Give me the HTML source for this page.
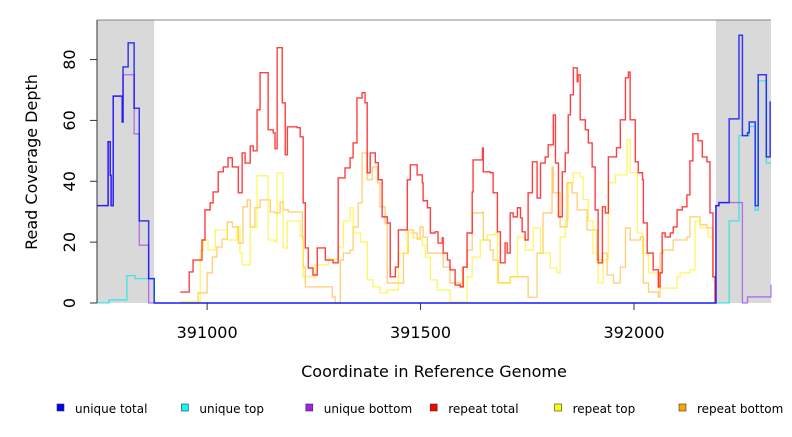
<!DOCTYPE html>
<html><head><meta charset="utf-8"><style>
body{margin:0;background:#fff;}
svg text{font-family:"DejaVu Sans","Liberation Sans",sans-serif;}
</style></head><body>
<svg id="chart" width="792" height="432" viewBox="0 0 792 432" xmlns="http://www.w3.org/2000/svg">
<g id="plot"></g>
<g id="axes"></g>
<g id="legend"></g>
</svg>
<script>
const xDomain=[390742,392321];
const yDomain=[0,93];
const xTicks=[391000,391500,392000];
const xTickLabels=["391000","391500","392000"];
const yTicks=[0,20,40,60,80];
const yTickLabels=["0","20","40","60","80"];
const grayRegions=[[390742,390876],[392192,392321]];

const redX=[390937,390958,390967,390988,390995,391007,391014,391026,391038,391049,391059,391066,391073,391082,391089,391101,391108,391117,391124,391136,391143,391155,391159,391164,391176,391183,391188,391211,391218,391225,391230,391237,391248,391258,391272,391277,391295,391307,391323,391335,391342,391351,391363,391370,391375,391382,391394,391401,391410,391422,391429,391441,391448,391464,391469,391476,391492,391504,391506,391516,391523,391534,391541,391551,391553,391563,391569,391581,391593,391600,391609,391621,391623,391640,391645,391647,391663,391670,391680,391687,391698,391703,391710,391717,391727,391734,391738,391745,391752,391762,391773,391781,391792,391799,391811,391816,391823,391832,391839,391846,391851,391858,391867,391869,391874,391886,391893,391902,391909,391916,391926,391933,391940,391952,391959,391968,391980,391987,391991,392003,392010,392020,392022,392031,392045,392057,392061,392066,392073,392085,392092,392101,392113,392124,392131,392138,392150,392160,392171,392178,392185,392190];
const redY=[3.6,10.2,14.1,20.7,30.6,32.9,36.5,43.1,44.7,47.7,44.7,44.7,36.2,49.3,46,51.6,50,63.5,75.7,75.7,56.9,55.9,50.7,83.9,65.8,48.7,57.9,57.6,54.6,32.9,18.1,11.5,9.2,18.1,18.1,14.1,13.2,41.1,44.4,47.7,52.6,67.4,69.1,65.8,42.8,49.3,46.1,40.5,28.3,26.3,8.6,11.8,24,24,40.5,45.4,42.1,39.5,33.6,31.3,23,23.4,19.7,21.4,16.4,14.1,10.9,5.9,5.3,11.8,23,36.5,47,47,50.9,43.1,42.8,36.2,23.4,13.2,19.7,16.4,29.6,28.3,31.3,28,23.4,20.7,36.2,46.4,34.5,46,48,52,61.8,46,28.3,43.1,49.3,61.8,68.4,77.3,72.7,75,60.2,56.9,52.6,44.7,30.6,13.2,31.6,29.6,48,48,51,60.2,74,75.9,60.2,46.4,42.8,40.5,26.3,16.4,10.9,5.3,9.9,23,21.7,23,25,30.6,31.6,35.5,46.7,55.6,53.3,48,46.4,29.6,8.6,0];

const yelX=[390937,390984,390991,391002,391019,391047,391070,391077,391082,391101,391117,391143,391159,391164,391178,391188,391211,391218,391225,391248,391253,391284,391307,391319,391335,391342,391359,391375,391389,391405,391422,391448,391469,391483,391504,391511,391523,391539,391569,391609,391621,391640,391656,391675,391680,391710,391727,391745,391764,391781,391804,391820,391827,391839,391846,391858,391874,391881,391893,391904,391916,391928,391940,391956,391975,391984,391991,392008,392020,392034,392057,392092,392101,392108,392131,392143,392155,392174,392185,392190];
const yelY=[0.5,17.4,20.7,17.4,24,20.7,25,16.4,12.5,24.9,41.8,20.7,20.1,42.8,18.1,27,27,22,8.6,8.6,12.5,14.5,18.4,27,31.3,23,20.1,7.6,5.3,3.3,4.3,16.4,23,21.4,19,15,7.6,4.3,0.3,8.6,15.1,20.7,22.4,23,6.6,8.6,21.7,17.4,24.7,16.4,11.5,9.9,21.7,27.3,39.5,42.8,41.4,34,27,16.4,6.6,14.1,39.5,42.1,42.1,53.6,42.8,23,16.4,9.9,4.9,4.9,8.6,9.9,10.9,27,24.7,21.7,8.6,0];

const orgX=[390937,390979,391000,391012,391023,391035,391047,391059,391073,391084,391094,391101,391112,391124,391141,391148,391159,391171,391178,391190,391213,391223,391225,391230,391284,391293,391300,391312,391319,391335,391342,391354,391363,391375,391387,391399,391405,391417,391422,391453,391460,391471,391483,391492,391499,391506,391516,391539,391553,391569,391593,391598,391609,391621,391645,391647,391663,391670,391682,391703,391710,391752,391773,391787,391796,391808,391811,391827,391843,391855,391867,391890,391913,391926,391937,391952,391968,391980,391991,392015,392022,392034,392057,392061,392068,392092,392124,392131,392148,392155,392171,392185,392190];
const orgY=[0,3.3,9.9,15.1,18.4,21,26.6,25,19.7,31.6,33.9,25,31.3,33.9,33.9,29.9,29.6,33.2,30.6,29.9,29.9,21.7,11.8,5.3,5.3,2,0,14.1,16.4,17.4,25,32.9,49.3,40.5,44.7,39.5,31.6,26,6.6,6.6,16.4,24,23,21,25,21.7,16.4,16.4,11.8,6.6,5.3,11.8,17.4,29.6,29.9,20.7,17.4,14.1,6.6,6.6,8.6,1.9,16.4,29.6,29.6,44.7,36.2,25,39.5,36.2,30.6,24,14.1,16.4,9.2,6.6,11.8,24.7,20.7,21.7,6.6,3.6,2,16.4,17.4,20.7,21.7,28.3,28.3,25.7,24.7,8.6,0];

const cyanX=[390742,390770,390812,390831,390876,392223,392246,392266,392270,392284,392291,392310,392321];
const cyanY=[0,1,9,8,0,27,55,55,58,30.5,73,46,46];
const purpX=[390742,390768,390773,390775,390780,390801,390803,390815,390829,390841,390863,392192,392199,392254,392266,392321];
const purpY=[32,53,42,32,68,59.5,75,75,55.6,19,0,32,33,0,2,6];
const blueX=[390742,390768,390773,390775,390780,390801,390803,390815,390829,390841,390863,390876,392192,392199,392223,392246,392254,392266,392270,392284,392291,392310,392319,392321];
const blueY=[32,53,42,32,68,59.5,77.6,85.5,64,27,8,0,32,33,60.5,88,55,56,59.5,32,75,48,66,66];

const legendLabels=["unique total","unique top","unique bottom","repeat total","repeat top","repeat bottom"];
const legendColors=["#0000ff","#00ffff","#a020f0","#ff0000","#ffff00","#ffa500"];

const L=97,R=771,T=20,B=303;
const X=v=>L+(v-xDomain[0])/(xDomain[1]-xDomain[0])*(R-L);
const Y=v=>B-(v-yDomain[0])/(yDomain[1]-yDomain[0])*(B-T)*(93/93)*(1);
const NS="http://www.w3.org/2000/svg";
function mk(tag,attrs,parent){const e=document.createElementNS(NS,tag);for(const k in attrs)e.setAttribute(k,attrs[k]);parent.appendChild(e);return e;}
const plot=document.getElementById('plot'),axes=document.getElementById('axes'),leg=document.getElementById('legend');

grayRegions.forEach((g,i)=>{
 const r=mk('rect',{x:X(g[0]),y:T,width:X(g[1])-X(g[0]),height:B-T,fill:'#d9d9d9'},plot);
 
 
});
function step(xs,ys,color,op,w,name){
 let d='M'+X(xs[0])+','+Y(ys[0]);
 for(let i=1;i<xs.length;i++){d+=' H'+X(xs[i])+' V'+Y(ys[i]);}
 const p=mk('path',{d:d,fill:'none',stroke:color,'stroke-opacity':op,'stroke-width':w},plot);
 
 
}
step(orgX,orgY,'#ffa500',0.55,1.3,'repeat-bottom-line');
step(yelX,yelY,'#ffee00',0.6,1.3,'repeat-top-line');
step(redX,redY,'#ff0000',0.75,1.4,'repeat-total-line');
step(cyanX,cyanY,'#00e5e5',0.7,1.3,'unique-top-line');
step(purpX,purpY,'#a040f0',0.7,1.3,'unique-bottom-line');
step(blueX,blueY,'#0000ff',0.75,1.5,'unique-total-line');

let e=mk('line',{x1:L,y1:T,x2:R,y2:T,stroke:'#888','stroke-width':1},axes);


e=mk('line',{x1:L,y1:T,x2:L,y2:B,stroke:'#333','stroke-width':1},axes);


yTicks.forEach((t,i)=>{
 const tk=mk('line',{x1:L-7,y1:Y(t),x2:L,y2:Y(t),stroke:'#333'},axes);
 
 
 const tx=mk('text',{x:75,y:Y(t),'font-size':16,'text-anchor':'middle',transform:'rotate(-90 75 '+Y(t)+')'},axes);
 tx.textContent=yTickLabels[i];
 
 
});
xTicks.forEach((t,i)=>{
 const tk=mk('line',{x1:X(t),y1:B,x2:X(t),y2:B+7,stroke:'#333'},axes);
 
 
 const tx=mk('text',{x:X(t),y:338,'font-size':16,'text-anchor':'middle'},axes);
 tx.textContent=xTickLabels[i];
 
 
});
e=mk('text',{x:434,y:377,'font-size':16,'text-anchor':'middle'},axes);
e.textContent='Coordinate in Reference Genome';


e=mk('text',{x:37,y:162,'font-size':16,'text-anchor':'middle',transform:'rotate(-90 37 162)'},axes);
e.textContent='Read Coverage Depth';



legendLabels.forEach((lab,i)=>{
 const x0=57+i*124.4;
 const g=mk('g',{},leg);
 
 
 mk('rect',{x:x0,y:404,width:7,height:7,fill:legendColors[i],stroke:'#333','stroke-width':0.6},g);
 const t=mk('text',{x:x0+18,y:413,'font-size':12},g);
 t.textContent=lab;
});
</script>
</body></html>
